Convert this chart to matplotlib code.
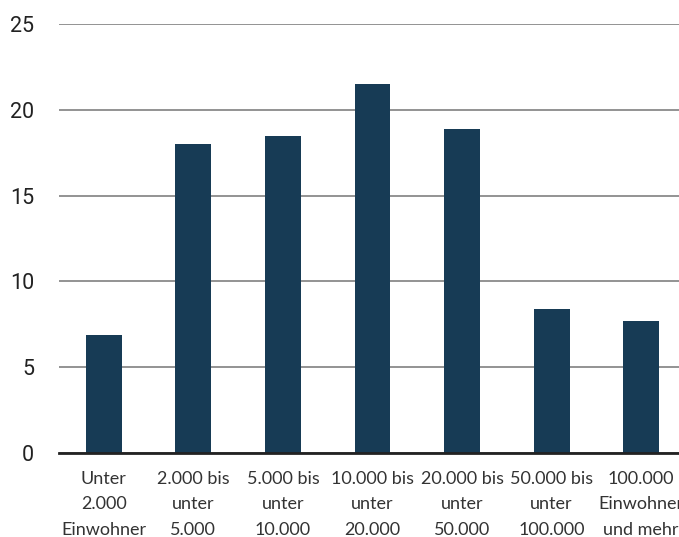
import matplotlib.pyplot as plt

plt.rcParams['font.family'] = ['Lato', 'DejaVu Sans']

categories = ['Unter\n2.000\nEinwohner', '2.000 bis\nunter\n5.000', '5.000 bis\nunter\n10.000',
              '10.000 bis\nunter\n20.000', '20.000 bis\nunter\n50.000', '50.000 bis\nunter\n100.000',
              '100.000\nEinwohner\nund mehr']
values = [6.9, 18.0, 18.5, 21.5, 18.9, 8.4, 7.7]
yticks = [0, 5, 10, 15, 20, 25]

fig = plt.figure(figsize=(6.79, 5.37), dpi=100)
# plot area runs past the right edge, as in the original
ax = fig.add_axes([59/679, 84/537, 627/679, 429/537])

x = range(len(values))
ax.bar(x, values, width=0.4, color='#173b55', zorder=3)

ax.set_xlim(-0.5, 6.5)
ax.set_ylim(0, 25)
ax.set_yticks(yticks)
ax.set_xticks(list(x))
ax.set_xticklabels(categories, fontsize=13, color='#333333', linespacing=1.72)
ax.tick_params(axis='y', length=0, pad=18, labelsize=15.5, labelcolor='#222222')
ax.tick_params(axis='x', length=0, pad=13)
for t in ax.get_yticklabels():
    t.set_family(['Roboto', 'DejaVu Sans'])

ax.grid(axis='y', color='#808080', linewidth=1.2, zorder=0)
for s in ['top', 'right', 'left']:
    ax.spines[s].set_visible(False)
ax.spines['bottom'].set_color('#222222')
ax.spines['bottom'].set_linewidth(2)
ax.spines['bottom'].set_zorder(4)

plt.savefig('out.png', dpi=100)
